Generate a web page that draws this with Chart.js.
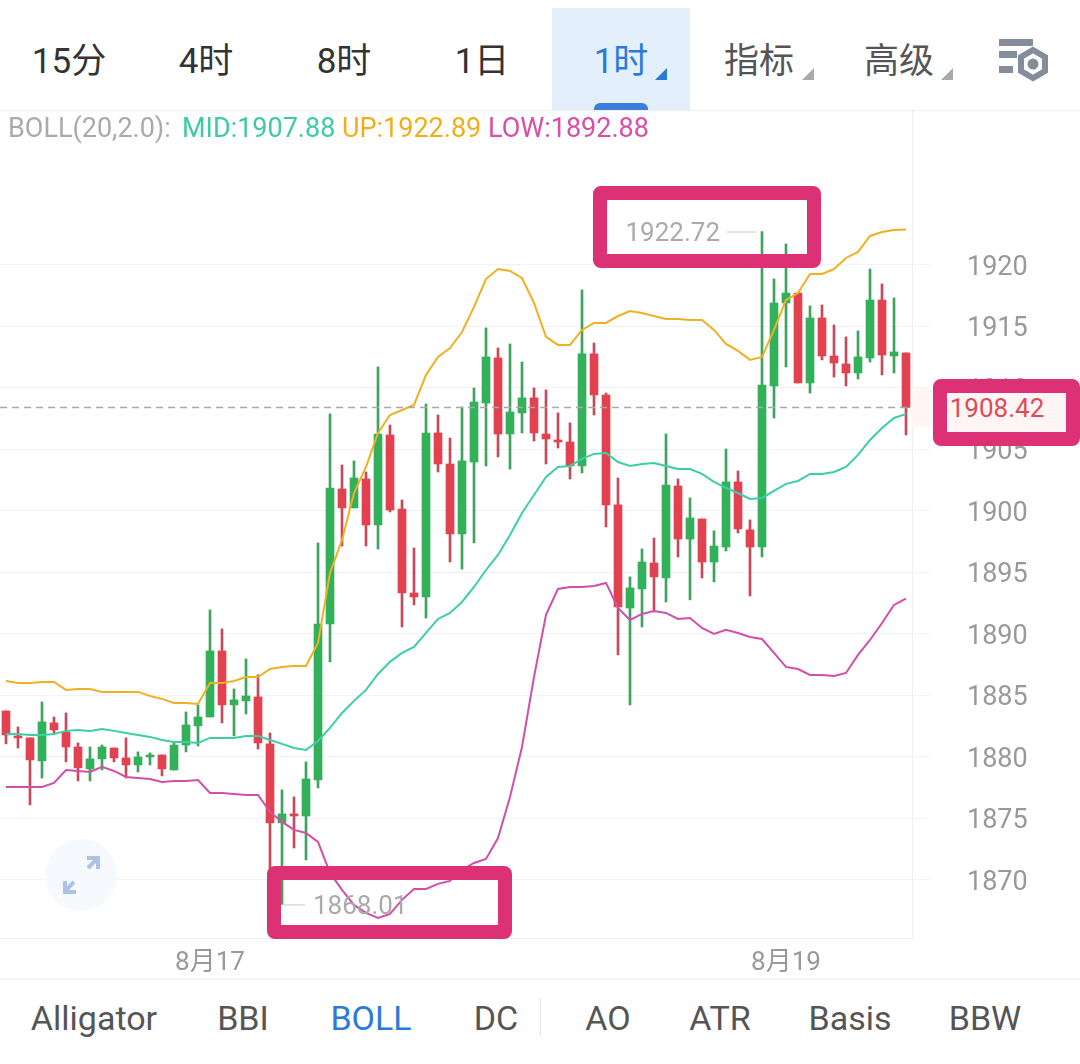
<!DOCTYPE html>
<html>
<head>
<meta charset="utf-8">
<title>BOLL</title>
<script src="https://cdn.jsdelivr.net/npm/chart.js@4"></script>
<style>
    html, body { margin: 0; background: #fff; }
    body { width: 1080px; height: 1064px; position: relative; overflow: hidden; font-family: Roboto, "Noto Sans CJK SC", sans-serif; }
    .t { position: absolute; white-space: nowrap; transform: translate(-50%, -50%); }
    .top { font-size: 35px; color: #333; top: 57px; }
    .bot { font-size: 34px; color: #555; top: 1018px; }
    .leg { position: absolute; top: 113px; font-size: 27px; line-height: 30px; white-space: nowrap; }
    .abs { position: absolute; }
    .box { position: absolute; box-sizing: border-box; border: 14px solid #dc3174; border-radius: 8px; }
    .tri { position: absolute; width: 0; height: 0; border-left: 12px solid transparent; border-bottom: 12px solid #aaa; }
    #ratesChart { position: absolute; left: 0; top: 110px; }
</style>
</head>
<body>
<div class="abs" style="left:552px;top:8px;width:138px;height:102px;background:#e4effc"></div>
<div class="abs" style="left:594px;top:103px;width:54px;height:7px;background:#3b7fdb;border-radius:6px 6px 0 0"></div>
<div class="t top" style="left:69px">15分</div>
<div class="t top" style="left:206px">4时</div>
<div class="t top" style="left:344px">8时</div>
<div class="t top" style="left:482px">1日</div>
<div class="t top" style="left:621px;color:#2a7bd8">1时</div>
<div class="t top" style="left:759px;color:#555">指标</div>
<div class="t top" style="left:899px;color:#555">高级</div>
<div class="tri" style="left:655px;top:68px;border-bottom-color:#2a7bd8"></div>
<div class="tri" style="left:802px;top:68px"></div>
<div class="tri" style="left:941px;top:68px"></div>
<svg class="abs" style="left:990px;top:30px" width="60" height="54" viewBox="0 0 60 54">
    <rect x="9" y="9" width="34" height="7" fill="#858d9c"/>
    <rect x="9" y="21" width="18" height="7" fill="#858d9c"/>
    <rect x="9" y="36" width="14" height="7" fill="#858d9c"/>
    <polygon points="43,20 55,27 55,41 43,48 31,41 31,27" fill="none" stroke="#858d9c" stroke-width="6"/>
    <circle cx="43" cy="34" r="5.5" fill="#858d9c"/>
</svg>
<div class="abs" style="left:0;top:110px;width:1080px;height:1px;background:#eee"></div>

<canvas id="ratesChart" width="1080" height="868"></canvas>

<span class="leg" style="left:8px;color:#aaa">BOLL(20,2.0):</span>
<span class="leg" id="legMid" style="left:182px;color:#3ec9a7"></span>
<span class="leg" id="legUp" style="left:342px;color:#f0ae1a"></span>
<span class="leg" id="legLow" style="left:488px;color:#d84fa8"></span>

<svg class="abs" style="left:41px;top:835px" width="80" height="80" viewBox="0 0 80 80">
    <circle cx="40" cy="40" r="36" fill="#f6f9fd"/>
    <path d="M33 47 L24 56 M24 46 V57 H35 M47 33 L56 24 M46 23 H57 V34" fill="none" stroke="#aec3e4" stroke-width="4"/>
</svg>

<div class="box" style="left:593px;top:186px;width:228px;height:82px"></div>
<div class="box" style="left:267px;top:866px;width:245px;height:73px"></div>

<div class="abs" style="left:912px;top:388px;width:30px;height:39px;background:#fff6f6"></div>
<div class="box" style="left:933px;top:379px;width:147px;height:67px;background:#fff5f5"></div>
<div class="t" id="priceTag" style="left:997px;top:408px;font-size:26px;color:#e04a55"></div>

<div class="abs" style="left:0;top:978px;width:1080px;height:2px;background:#f3f3f5"></div>
<div class="abs" style="left:540px;top:998px;width:1px;height:38px;background:#e4e4e4"></div>
<div class="t bot" style="left:94px">Alligator</div>
<div class="t bot" style="left:243px">BBI</div>
<div class="t bot" style="left:371px;color:#2a7bd8">BOLL</div>
<div class="t bot" style="left:496px">DC</div>
<div class="t bot" style="left:608px">AO</div>
<div class="t bot" style="left:720px">ATR</div>
<div class="t bot" style="left:850px">Basis</div>
<div class="t bot" style="left:985px">BBW</div>

<script>
const opens = [
    1883.74, 1881.71, 1881.55, 1879.68, 1882.77, 1882.03, 1880.81, 1879.03, 1879.84, 1880.73,
    1879.92, 1879.35, 1880.00, 1880.16, 1878.94, 1880.97, 1882.52, 1883.25, 1888.62, 1884.23,
    1884.56, 1884.88, 1881.06, 1874.64, 1875.37, 1875.20, 1878.13, 1890.81, 1901.79, 1900.25,
    1902.60, 1898.86, 1906.18, 1900.16, 1893.33, 1893.01, 1906.34, 1903.82, 1898.13, 1903.98,
    1908.78, 1912.44, 1906.26, 1907.97, 1909.19, 1906.26, 1905.77, 1905.61, 1903.66, 1912.77,
    1909.43, 1900.49, 1892.11, 1893.66, 1895.77, 1894.55, 1902.03, 1897.72, 1899.35, 1895.85,
    1897.07, 1902.36, 1898.46, 1897.07, 1910.16, 1916.91, 1917.72, 1910.41, 1915.69, 1912.60,
    1911.95, 1911.22, 1912.44, 1917.15, 1912.60, 1912.85
]
const highs = [
    1883.74, 1882.44, 1881.55, 1884.47, 1883.25, 1883.58, 1881.14, 1880.81, 1880.97, 1880.73,
    1881.55, 1880.41, 1880.33, 1880.16, 1881.14, 1883.66, 1884.23, 1891.95, 1890.41, 1885.53,
    1887.97, 1886.67, 1881.95, 1877.32, 1876.75, 1879.60, 1897.40, 1907.89, 1903.74, 1904.07,
    1903.17, 1911.71, 1906.99, 1900.89, 1896.99, 1908.70, 1907.80, 1905.93, 1908.46, 1910.00,
    1914.88, 1913.25, 1913.58, 1912.11, 1910.00, 1909.84, 1907.97, 1907.16, 1917.97, 1913.66,
    1909.59, 1902.68, 1894.64, 1896.91, 1897.80, 1906.26, 1902.60, 1901.06, 1899.35, 1898.38,
    1905.04, 1903.25, 1899.27, 1922.72, 1918.86, 1921.71, 1917.72, 1916.67, 1916.75, 1915.12,
    1914.15, 1914.63, 1919.67, 1918.46, 1917.32, 1912.85
]
const lows = [
    1881.06, 1880.73, 1876.10, 1878.29, 1881.95, 1879.60, 1878.05, 1878.05, 1878.94, 1879.60,
    1878.29, 1878.78, 1879.35, 1878.46, 1878.94, 1880.41, 1880.89, 1883.25, 1882.77, 1881.71,
    1883.50, 1880.65, 1870.41, 1868.01, 1872.60, 1871.63, 1877.48, 1887.73, 1897.15, 1900.25,
    1897.15, 1896.91, 1899.92, 1890.57, 1892.36, 1891.30, 1903.17, 1895.85, 1895.28, 1897.40,
    1903.66, 1904.39, 1903.41, 1906.34, 1905.69, 1903.82, 1905.12, 1902.60, 1903.09, 1907.80,
    1898.70, 1888.30, 1884.23, 1890.57, 1891.79, 1892.60, 1896.26, 1892.77, 1894.55, 1894.23,
    1896.75, 1898.21, 1893.09, 1896.26, 1907.56, 1911.71, 1910.41, 1909.59, 1912.28, 1910.89,
    1910.16, 1910.73, 1912.11, 1911.06, 1911.22, 1906.18
]
const closes = [
    1881.79, 1881.55, 1879.76, 1882.85, 1882.20, 1880.81, 1879.11, 1879.84, 1880.81, 1879.92,
    1879.35, 1880.00, 1880.16, 1879.03, 1880.97, 1882.60, 1883.25, 1888.62, 1884.23, 1884.64,
    1884.96, 1881.14, 1874.64, 1875.37, 1875.20, 1878.21, 1890.81, 1901.87, 1900.25, 1902.68,
    1898.86, 1906.26, 1900.08, 1893.33, 1893.01, 1906.34, 1903.82, 1898.13, 1904.07, 1908.86,
    1912.52, 1906.26, 1908.05, 1909.19, 1906.34, 1905.85, 1905.61, 1903.66, 1912.77, 1909.43,
    1900.49, 1892.20, 1893.74, 1895.85, 1894.64, 1902.11, 1897.72, 1899.43, 1895.85, 1897.15,
    1902.36, 1898.54, 1897.07, 1910.24, 1916.91, 1917.72, 1910.41, 1915.69, 1912.60, 1912.03,
    1911.22, 1912.52, 1917.15, 1912.68, 1912.93, 1908.42
]
const bollUp = [
    1886.18, 1886.02, 1886.02, 1886.10, 1886.10, 1885.45, 1885.53, 1885.53, 1885.29, 1885.29,
    1885.29, 1885.29, 1884.96, 1884.72, 1884.39, 1884.39, 1884.31, 1886.02, 1886.02, 1886.18,
    1886.50, 1886.50, 1887.15, 1887.32, 1887.40, 1887.40, 1889.27, 1894.96, 1897.64, 1901.46,
    1903.58, 1906.34, 1907.80, 1908.21, 1908.62, 1911.06, 1912.52, 1913.25, 1914.55, 1916.59,
    1918.86, 1919.67, 1919.51, 1918.94, 1916.91, 1914.15, 1913.50, 1913.50, 1914.72, 1915.29,
    1915.29, 1915.85, 1916.26, 1916.10, 1915.85, 1915.61, 1915.61, 1915.53, 1915.53, 1914.72,
    1913.58, 1913.01, 1912.28, 1912.52, 1914.72, 1917.15, 1917.72, 1919.27, 1919.27, 1919.67,
    1920.57, 1921.06, 1922.36, 1922.68, 1922.85, 1922.89
]
const bollMid = [
    1881.87, 1881.87, 1881.79, 1881.79, 1881.87, 1882.12, 1882.20, 1882.12, 1882.28, 1882.12,
    1881.95, 1881.79, 1881.63, 1881.38, 1881.22, 1881.22, 1881.14, 1881.55, 1881.55, 1881.55,
    1881.71, 1881.71, 1881.38, 1881.06, 1880.73, 1880.57, 1881.30, 1882.36, 1883.58, 1884.56,
    1885.45, 1886.75, 1887.73, 1888.46, 1888.94, 1890.08, 1891.22, 1891.71, 1892.60, 1893.82,
    1895.20, 1896.42, 1898.05, 1899.84, 1901.30, 1902.77, 1903.58, 1903.66, 1904.23, 1904.64,
    1904.72, 1903.98, 1903.66, 1903.82, 1903.90, 1903.66, 1903.41, 1903.41, 1903.01, 1902.36,
    1901.87, 1901.46, 1900.98, 1901.06, 1901.63, 1902.20, 1902.44, 1903.01, 1903.01, 1903.17,
    1903.58, 1904.56, 1905.77, 1906.75, 1907.56, 1907.88
]
const bollLow = [
    1877.56, 1877.56, 1877.56, 1877.56, 1877.89, 1878.94, 1878.86, 1878.78, 1879.19, 1878.86,
    1878.37, 1878.29, 1878.21, 1877.97, 1878.05, 1878.05, 1878.13, 1877.07, 1877.07, 1876.99,
    1876.91, 1876.91, 1875.53, 1874.72, 1874.07, 1873.82, 1873.09, 1870.57, 1869.19, 1867.97,
    1867.32, 1866.91, 1867.24, 1868.38, 1869.27, 1869.27, 1869.68, 1869.92, 1870.81, 1871.38,
    1871.71, 1873.41, 1876.75, 1880.81, 1886.50, 1891.55, 1893.66, 1893.82, 1893.82, 1893.90,
    1894.15, 1892.11, 1891.14, 1891.63, 1891.87, 1891.71, 1891.22, 1891.30, 1890.49, 1890.00,
    1890.33, 1890.08, 1889.76, 1889.59, 1888.46, 1887.32, 1887.15, 1886.67, 1886.67, 1886.59,
    1886.83, 1888.30, 1889.51, 1890.89, 1892.36, 1892.88
]
const yTicks = [1870, 1875, 1880, 1885, 1890, 1895, 1900, 1905, 1910, 1915, 1920]
const dayLabels = ['8月17', '8月19']

// one candle per hour, first one is 8月16 07:00
const labels = opens.map((o, i) => {
    const hours = i + 7
    return `8月${16 + Math.floor(hours / 24)} ${hours % 24}:00`
})

const GREEN = '#33b15a'
const RED = '#e2424f'
const candleColor = (up, down) => (ctx) => closes[ctx.dataIndex] >= opens[ctx.dataIndex] ? up : down
const last = closes.length - 1

document.getElementById('legMid').textContent = `MID:${bollMid[last].toFixed(2)}`
document.getElementById('legUp').textContent = `UP:${bollUp[last].toFixed(2)}`
document.getElementById('legLow').textContent = `LOW:${bollLow[last].toFixed(2)}`
document.getElementById('priceTag').textContent = closes[last].toFixed(2)

// price line and the highest / lowest labels
const marksPlugin = {
    id: 'marks',
    afterDatasetsDraw(chart) {
        const { ctx, chartArea, scales } = chart
        const priceY = scales.y.getPixelForValue(closes[last])
        ctx.save()
        ctx.strokeStyle = '#a8a8a8'
        ctx.lineWidth = 1.5
        ctx.setLineDash([7, 5])
        ctx.beginPath()
        ctx.moveTo(chartArea.left, priceY)
        ctx.lineTo(chartArea.right, priceY)
        ctx.stroke()
        ctx.setLineDash([])

        const maxHigh = Math.max(...highs)
        const minLow = Math.min(...lows)
        const highX = scales.x.getPixelForValue(highs.indexOf(maxHigh))
        const lowX = scales.x.getPixelForValue(lows.indexOf(minLow))
        const highY = scales.y.getPixelForValue(maxHigh)
        const lowY = scales.y.getPixelForValue(minLow)

        ctx.strokeStyle = '#c8c8c8'
        ctx.lineWidth = 1
        ctx.beginPath()
        ctx.moveTo(highX - 35, highY + 0.5)
        ctx.lineTo(highX - 6, highY + 0.5)
        ctx.moveTo(lowX, lowY + 0.5)
        ctx.lineTo(lowX + 23, lowY + 0.5)
        ctx.stroke()

        ctx.fillStyle = '#aaa'
        ctx.font = '26px Roboto, "Noto Sans CJK SC"'
        ctx.textBaseline = 'middle'
        ctx.textAlign = 'right'
        ctx.fillText(maxHigh.toFixed(2), highX - 42, highY + 3)
        ctx.textAlign = 'left'
        ctx.fillText(minLow.toFixed(2), lowX + 31, lowY + 3)
        ctx.restore()
    }
}

const lineSet = (data, color) => ({
    type: 'line',
    data: data,
    borderColor: color,
    borderWidth: 2,
    pointRadius: 0,
    tension: 0,
    order: 0
})

const config = {
    type: 'bar',
    data: {
        labels: labels,
        datasets: [
            lineSet(bollUp, '#efb021'),
            lineSet(bollMid, '#3bcfa8'),
            lineSet(bollLow, '#d14fa8'),
            {
                data: opens.map((o, i) => [o, closes[i]]),
                backgroundColor: candleColor(GREEN, RED),
                barThickness: 8,
                grouped: false,
                order: 1
            },
            {
                data: lows.map((l, i) => [l, highs[i]]),
                backgroundColor: candleColor('#3fa35f', '#c64a5a'),
                barThickness: 2,
                grouped: false,
                order: 2
            }
        ]
    },
    options: {
        responsive: false,
        animation: false,
        events: [],
        layout: { padding: 0 },
        plugins: { legend: { display: false }, tooltip: { enabled: false } },
        scales: {
            x: {
                grid: { display: false },
                border: { color: '#eeeeee' },
                afterFit: (axis) => {
                    axis.height = 40
                    axis.paddingLeft = 0
                    axis.paddingRight = 0
                },
                ticks: {
                    autoSkip: false,
                    maxRotation: 0,
                    minRotation: 0,
                    padding: 2,
                    color: '#999',
                    font: { family: 'Roboto, "Noto Sans CJK SC"', size: 26 },
                    callback: function (value) {
                        const parts = this.getLabelForValue(value).split(' ')
                        return parts[1] === '0:00' && dayLabels.includes(parts[0]) ? parts[0] : ''
                    }
                }
            },
            y: {
                position: 'right',
                min: 1865.28,
                max: 1932.6,
                afterBuildTicks: (axis) => {
                    axis.ticks = yTicks.map((v) => ({ value: v }))
                },
                afterFit: (axis) => {
                    axis.width = 168
                    axis.paddingTop = 0
                    axis.paddingBottom = 0
                },
                grid: { color: '#f2f3f5', tickLength: 18 },
                border: { color: '#eeeeee' },
                ticks: {
                    padding: 37,
                    labelOffset: 3,
                    color: '#999',
                    font: { family: 'Roboto, "Noto Sans CJK SC"', size: 27 },
                    callback: (value) => String(value)
                }
            }
        }
    },
    plugins: [marksPlugin]
}

const ratesChart = new Chart(document.getElementById('ratesChart'), config)
</script>
</body>
</html>
